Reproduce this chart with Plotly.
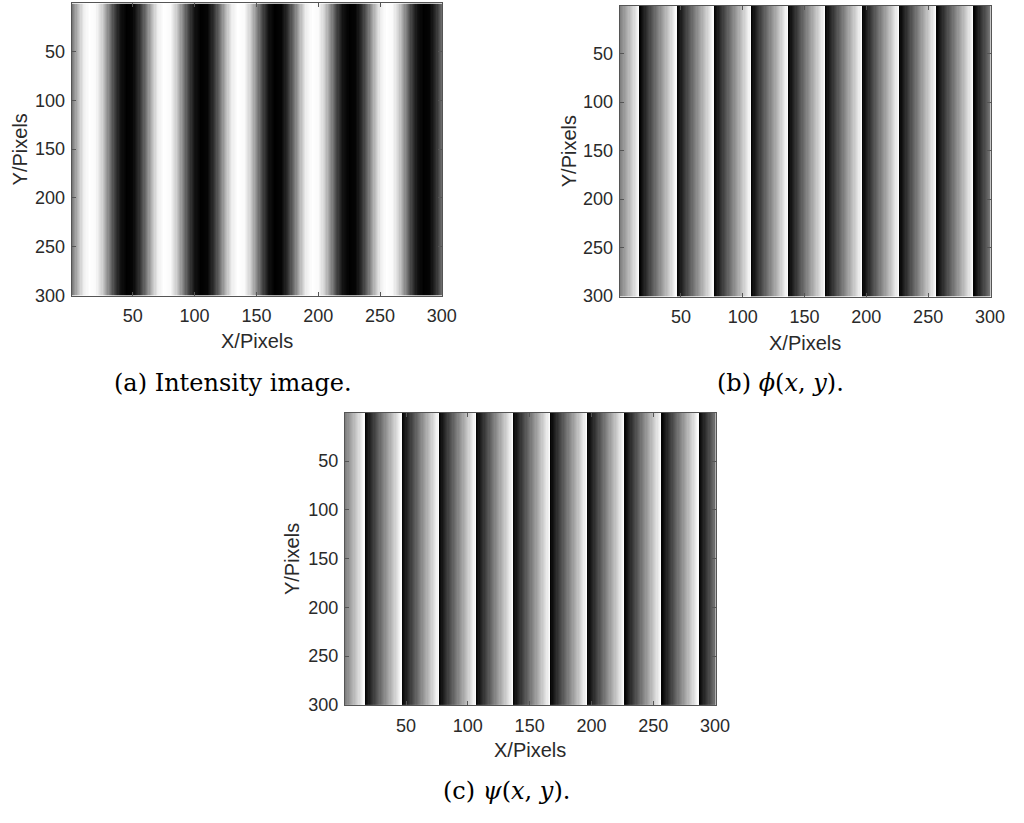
import numpy as np
import plotly.graph_objects as go

# ---- data ----
# (a) intensity profile across X, sampled every 5 pixels (x = 0, 5, ..., 300); 0 = black, 1 = white
intensity_x = list(range(0, 301, 5))
intensity_profile = [
    0.42, 0.70, 0.93, 1.00, 0.98, 0.82, 0.55, 0.27, 0.07, 0.00, 0.02, 0.18,
    0.42, 0.70, 0.93, 1.00, 0.98, 0.82, 0.55, 0.27, 0.07, 0.00, 0.02, 0.18,
    0.42, 0.70, 0.93, 1.00, 0.98, 0.82, 0.55, 0.27, 0.07, 0.00, 0.02, 0.18,
    0.42, 0.70, 0.93, 1.00, 0.98, 0.82, 0.55, 0.27, 0.07, 0.00, 0.02, 0.18,
    0.42, 0.70, 0.93, 1.00, 0.98, 0.82, 0.55, 0.27, 0.07, 0.00, 0.02, 0.18,
    0.42,
]
# (b) and (c) wrapped phase: X positions of the 2*pi jumps, level at left/right edges
phi_wraps = [16.5, 46.5, 76.5, 106.5, 136.5, 166.5, 196.5, 226.5, 256.5, 286.5]
phi_left_level = 0.47
phi_right_level = 0.47
psi_wraps = [16.5, 46.5, 76.5, 106.5, 136.5, 166.5, 196.5, 226.5, 256.5, 286.5]
psi_left_level = 0.47
psi_right_level = 0.47

tick_vals = [50, 100, 150, 200, 250, 300]
n_pix = 300

captions = ["(a) Intensity image.",
            "(b) <i>ϕ</i>(<i>x</i>, <i>y</i>).",
            "(c) <i>ψ</i>(<i>x</i>, <i>y</i>)."]

# ---- build images ----
cols = np.arange(1, n_pix + 1)
rows = np.arange(1, n_pix + 1)


def saw_row(wraps, left, right):
    kx = [0.0]
    kv = [left]
    for w in wraps:
        kx += [w - 1e-6, w + 1e-6]
        kv += [1.0, 0.0]
    kx.append(n_pix + 0.5)
    kv.append(right)
    return np.interp(cols, kx, kv)


img_a = np.tile(np.interp(cols, intensity_x, intensity_profile), (n_pix, 1))
img_b = np.tile(saw_row(phi_wraps, phi_left_level, phi_right_level), (n_pix, 1))
img_c = np.tile(saw_row(psi_wraps, psi_left_level, psi_right_level), (n_pix, 1))

W, H = 1024, 823
# plot boxes in pixels: (left, right, top, bottom)
boxes = [(72.6, 448.6, 3.5, 299.5), (628.3, 1004.3, 5.7, 300.2), (349.6, 725.6, 418.0, 714.0)]

fig = go.Figure()
gray = [[0, "black"], [1, "white"]]
for i, img in enumerate([img_a, img_b, img_c]):
    sfx = "" if i == 0 else str(i + 1)
    fig.add_trace(go.Heatmap(z=img, x=cols, y=rows, colorscale=gray, zmin=0, zmax=1,
                             showscale=False, xaxis="x" + sfx, yaxis="y" + sfx,
                             hoverinfo="skip"))
    l, r, t, b = boxes[i]
    axcommon = dict(showline=True, mirror="ticks", linecolor="#555555", linewidth=1,
                    ticks="inside", ticklen=4, tickcolor="#555555", showgrid=False,
                    zeroline=False, tickvals=tick_vals,
                    tickfont=dict(family="Liberation Sans, Arial", size=18, color="#2a2a2a"))
    fig.layout["xaxis" + sfx] = dict(domain=[l / W, r / W], range=[0.5, n_pix + 0.5],
                                     anchor="y" + sfx, ticklabelstandoff=4, **axcommon)
    fig.layout["yaxis" + sfx] = dict(domain=[1 - b / H, 1 - t / H], range=[n_pix + 0.5, 0.5],
                                     anchor="x" + sfx, ticklabelstandoff=2, **axcommon)

title_font = dict(family="Liberation Sans, Arial", size=20, color="#2a2a2a")
# axis titles: (x center, y center) for X title, (x center, y center) for Y title
xt = [(260.6, 345), (816.3, 347), (537.6, 759)]
yt = [(20, 151.5), (577, 153), (296, 566)]
for i in range(3):
    fig.add_annotation(text="X/Pixels", x=xt[i][0] / W, y=1 - xt[i][1] / H, xref="paper",
                       yref="paper", showarrow=False, xanchor="center", yanchor="middle",
                       font=title_font)
    fig.add_annotation(text="Y/Pixels", x=yt[i][0] / W, y=1 - yt[i][1] / H, xref="paper",
                       yref="paper", showarrow=False, xanchor="center", yanchor="middle",
                       textangle=-90, font=title_font)

cap_font = dict(family="DejaVu Serif", size=24, color="#000000")
cap_pos = [(236, 388), (791, 388), (514, 801)]
for i in range(3):
    fig.add_annotation(text=captions[i], x=cap_pos[i][0] / W, y=1 - cap_pos[i][1] / H,
                       xref="paper", yref="paper", showarrow=False, xanchor="center",
                       yanchor="middle", font=cap_font)

fig.update_layout(width=W, height=H, margin=dict(l=0, r=0, t=0, b=0),
                  paper_bgcolor="white", plot_bgcolor="white", showlegend=False)
fig.write_html("out.html")
